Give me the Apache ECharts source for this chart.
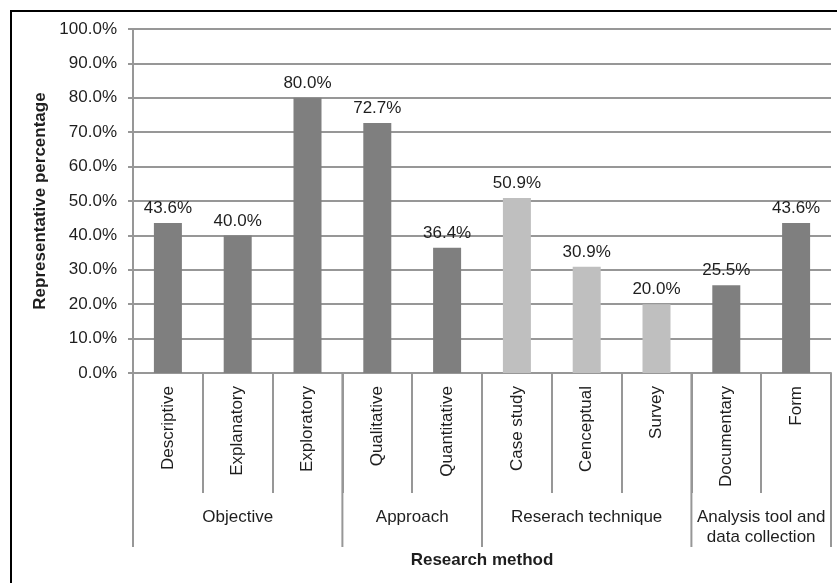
<!DOCTYPE html>
<html>
<head>
<meta charset="utf-8">
<script src="https://cdn.jsdelivr.net/npm/echarts@6/dist/echarts.min.js"></script>
<style>
  html, body { margin: 0; padding: 0; background: #fff; overflow: hidden; }
  #chart { width: 837px; height: 583px; }
</style>
</head>
<body>
<div id="chart"></div>
<script>
// Research methods used in the reviewed studies
const categories = ['Descriptive', 'Explanatory', 'Exploratory', 'Qualitative', 'Quantitative',
                    'Case study', 'Cenceptual', 'Survey', 'Documentary', 'Form'];
const percentages = [43.6, 40.0, 80.0, 72.7, 36.4, 50.9, 30.9, 20.0, 25.5, 43.6];

// Groups of methods (first index inclusive, last index exclusive)
const groupNames = ['Objective', 'Approach', 'Reserach technique', 'Analysis tool and\ndata collection'];
const groupStart = [0, 3, 5, 8];
const groupEnd = [3, 5, 8, 10];
const groupShade = ['dark', 'dark', 'light', 'dark'];

const yTicks = [0, 10, 20, 30, 40, 50, 60, 70, 80, 90, 100];

const FONT = '"Liberation Sans", Arial, sans-serif';
const TEXT = '#1e1e1e';
const GRID = '#979797';
const SHADES = { dark: '#7f7f7f', light: '#bfbfbf' };

function shadeOf(i) {
  for (let g = 0; g < groupStart.length; g++) {
    if (i >= groupStart[g] && i < groupEnd[g]) return SHADES[groupShade[g]];
  }
  return SHADES.dark;
}

const chart = echarts.init(document.getElementById('chart'), null, { renderer: 'canvas' });

chart.setOption({
  animation: false,
  backgroundColor: '#fff',
  textStyle: { fontFamily: FONT },
  graphic: [{
    type: 'rect',
    shape: { x: 11, y: 11, width: 900, height: 700 },
    style: { fill: 'none', stroke: '#000', lineWidth: 2 },
    silent: true
  }],
  grid: { left: 133, right: 6, top: 29, bottom: 210, containLabel: false },
  xAxis: {
    type: 'category',
    data: categories,
    boundaryGap: true,
    name: 'Research method',
    nameLocation: 'middle',
    nameGap: 179,
    nameTextStyle: { fontFamily: FONT, fontSize: 17, fontWeight: 'bold', color: TEXT },
    axisLine: { show: true, lineStyle: { color: GRID, width: 2 } },
    axisTick: { show: true, interval: 0, length: 120, lineStyle: { color: GRID, width: 2 } },
    axisLabel: {
      interval: 0, rotate: 90, margin: 13,
      fontFamily: FONT, fontSize: 17, color: TEXT
    },
    splitLine: { show: false }
  },
  yAxis: {
    type: 'value',
    min: yTicks[0],
    max: yTicks[yTicks.length - 1],
    interval: 10,
    name: 'Representative percentage',
    nameLocation: 'middle',
    nameRotate: 90,
    nameGap: 76,
    nameTextStyle: { fontFamily: FONT, fontSize: 17, fontWeight: 'bold', color: TEXT },
    axisLine: { show: true, lineStyle: { color: GRID, width: 2 } },
    axisTick: { show: true, inside: false, length: 5, lineStyle: { color: GRID, width: 2 } },
    axisLabel: {
      margin: 16, fontFamily: FONT, fontSize: 17, color: TEXT,
      formatter: v => v.toFixed(1) + '%'
    },
    splitLine: { show: true, lineStyle: { color: GRID, width: 2 } }
  },
  series: [
    {
      type: 'bar',
      data: percentages.map((v, i) => ({ value: v, itemStyle: { color: shadeOf(i) } })),
      barWidth: 28,
      label: {
        show: true, position: 'top', distance: 6,
        fontFamily: FONT, fontSize: 17, color: TEXT,
        formatter: p => p.value.toFixed(1) + '%'
      }
    },
    {
      // group separators and group captions below the category labels
      type: 'custom',
      silent: true,
      clip: false,
      z: 5,
      data: groupNames.map((n, i) => [groupStart[i], groupEnd[i]]),
      encode: { x: 0 },
      renderItem: (params, api) => {
        const s = api.value(0), e = api.value(1);
        const band = api.size([1, 0])[0];
        const base = api.coord([s, 0]);
        const x0 = base[0] - band / 2;
        const x1 = api.coord([e - 1, 0])[0] + band / 2;
        const y0 = base[1];
        const kids = [{
          type: 'line',
          shape: { x1: x0, y1: y0, x2: x0, y2: y0 + 174 },
          style: { stroke: GRID, lineWidth: 2 }
        }];
        if (e === categories.length) {
          kids.push({
            type: 'line',
            shape: { x1: x1, y1: y0, x2: x1, y2: y0 + 174 },
            style: { stroke: GRID, lineWidth: 2 }
          });
        }
        kids.push({
          type: 'text',
          style: {
            x: (x0 + x1) / 2, y: y0 + 134,
            text: groupNames[params.dataIndex],
            align: 'center', verticalAlign: 'top',
            lineHeight: 20,
            font: '17px ' + FONT,
            fill: TEXT
          }
        });
        return { type: 'group', children: kids };
      }
    }
  ]
});
</script>
</body>
</html>
